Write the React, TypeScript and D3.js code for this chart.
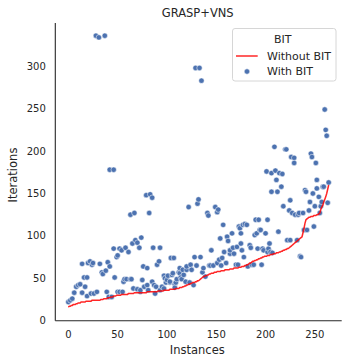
import React, { useEffect, useRef } from "react";
import * as d3 from "d3";

// sorted iterations per instance, without BIT (red line)
const withoutBit = [
  16, 17, 17, 18, 18, 19, 19, 19, 20, 20,
  21, 21, 21, 22, 22, 22, 22, 22, 23, 23,
  23, 23, 23, 23, 24, 24, 24, 24, 24, 24,
  24, 24, 24, 25, 25, 25, 26, 26, 26, 26,
  27, 27, 27, 28, 28, 28, 29, 29, 29, 30,
  30, 30, 30, 30, 31, 31, 31, 31, 31, 31,
  31, 32, 32, 32, 32, 32, 32, 33, 33, 33,
  33, 33, 33, 33, 33, 33, 33, 33, 33, 33,
  34, 34, 34, 34, 34, 34, 34, 34, 34, 34,
  34, 35, 35, 35, 35, 35, 35, 36, 36, 36,
  36, 36, 36, 37, 37, 37, 37, 37, 37, 38,
  38, 38, 38, 39, 39, 39, 40, 40, 41, 41,
  42, 42, 43, 43, 44, 44, 45, 45, 45, 46,
  46, 47, 47, 48, 49, 50, 51, 52, 52, 53,
  53, 54, 54, 55, 55, 56, 56, 56, 57, 57,
  57, 58, 58, 58, 58, 59, 59, 59, 59, 60,
  60, 60, 60, 60, 61, 61, 61, 61, 62, 62,
  62, 62, 62, 63, 63, 63, 64, 64, 64, 65,
  65, 66, 66, 67, 68, 68, 69, 70, 70, 71,
  71, 72, 72, 73, 73, 74, 74, 75, 75, 76,
  76, 76, 77, 77, 77, 78, 78, 78, 79, 79,
  79, 80, 80, 80, 81, 81, 82, 82, 83, 83,
  84, 84, 85, 85, 86, 87, 88, 89, 90, 91,
  92, 93, 94, 95, 96, 97, 98, 99, 104, 109,
  115, 119, 120, 121, 122, 122, 123, 123, 123, 124,
  124, 124, 125, 125, 126, 127, 131, 134, 136, 140,
  143, 146, 150, 155, 160,
];

// instances / iterations with BIT (scatter)
const withBitInstance = [
  0, 2, 4, 6, 8, 10, 12, 14, 14, 16,
  17, 19, 19, 20, 22, 23, 24, 25, 26, 28,
  29, 31, 32, 34, 35, 37, 38, 39, 40, 41,
  42, 42, 44, 46, 46, 47, 49, 50, 50, 52,
  52, 54, 55, 56, 57, 59, 58, 61, 63, 63,
  64, 65, 67, 66, 68, 70, 70, 72, 73, 73,
  74, 75, 76, 77, 79, 80, 80, 81, 82, 83,
  85, 85, 86, 87, 88, 89, 90, 92, 93, 93,
  95, 97, 97, 98, 99, 100, 101, 103, 103, 104,
  105, 106, 107, 108, 108, 109, 110, 112, 113, 113,
  114, 115, 116, 117, 119, 120, 120, 122, 123, 124,
  125, 127, 128, 129, 130, 131, 132, 133, 134, 135,
  136, 137, 139, 141, 142, 143, 144, 145, 147, 149,
  151, 151, 152, 153, 154, 155, 156, 157, 158, 160,
  161, 162, 164, 164, 166, 167, 168, 170, 171, 172,
  173, 174, 175, 175, 176, 177, 178, 179, 181, 182,
  184, 185, 186, 188, 189, 190, 191, 192, 193, 194,
  195, 196, 197, 198, 200, 201, 202, 202, 203, 204,
  205, 206, 206, 207, 209, 210, 211, 212, 213, 214,
  216, 217, 218, 220, 221, 222, 224, 225, 225, 226,
  227, 229, 229, 230, 232, 233, 234, 235, 236, 238,
  239, 240, 241, 242, 244, 245, 246, 247, 248, 249,
  250, 251, 252, 252, 254, 255, 256, 257, 258, 259,
  260, 261, 262, 263, 264,
];

const withBitIterations = [
  22, 24, 26, 33, 40, 42, 43, 67, 33, 51,
  40, 51, 29, 68, 70, 32, 66, 68, 32, 336,
  34, 334, 67, 57, 55, 336, 59, 34, 69, 28,
  178, 64, 28, 178, 85, 51, 75, 77, 34, 85,
  34, 83, 34, 46, 49, 49, 86, 81, 125, 49,
  49, 91, 127, 38, 95, 92, 37, 86, 34, 36,
  98, 48, 64, 40, 148, 62, 42, 36, 127, 149,
  145, 46, 86, 42, 32, 40, 66, 70, 36, 86,
  40, 38, 53, 50, 45, 48, 53, 45, 46, 74,
  54, 56, 74, 43, 39, 45, 49, 57, 56, 62,
  51, 49, 60, 54, 46, 60, 64, 134, 45, 66,
  60, 42, 75, 298, 65, 138, 143, 298, 75, 283,
  57, 62, 52, 127, 124, 65, 65, 83, 65, 134,
  128, 68, 131, 72, 97, 65, 74, 113, 81, 68,
  99, 94, 79, 83, 103, 86, 79, 66, 87, 66,
  111, 109, 91, 103, 83, 113, 75, 114, 113, 64,
  89, 86, 66, 66, 101, 119, 103, 85, 119, 107,
  107, 66, 85, 83, 103, 176, 119, 81, 85, 91,
  81, 152, 174, 80, 205, 177, 166, 152, 105, 174,
  158, 173, 135, 202, 202, 95, 130, 95, 142, 193,
  127, 192, 186, 125, 95, 125, 127, 76, 75, 127,
  107, 154, 152, 107, 130, 140, 197, 193, 150, 111,
  135, 186, 156, 166, 146, 127, 135, 140, 158, 158,
  249, 225, 218, 139, 163,
];

const xTicks = [0, 50, 100, 150, 200, 250];
const yTicks = [0, 50, 100, 150, 200, 250, 300];

const App = () => {
  const chartRef = useRef(null);

  useEffect(() => {
    drawChart();
  }, []);

  const drawChart = () => {
    const width = 348;
    const height = 364;
    const left = 55.3;
    const right = 341.7;
    const top = 23;
    const bottom = 320.7;
    const font = "DejaVu Sans, sans-serif";
    const ink = "#262626";

    const svg = d3.select(chartRef.current);
    svg.selectAll("*").remove();
    svg.attr("width", width).attr("height", height);

    const x = d3.scaleLinear().domain([-13.2, 277.2]).range([left, right]);
    const y = d3.scaleLinear().domain([0, 351]).range([bottom, top]);

    // scatter: with BIT
    svg
      .append("g")
      .selectAll("circle")
      .data(withBitInstance)
      .join("circle")
      .attr("cx", (d) => x(d))
      .attr("cy", (d, i) => y(withBitIterations[i]))
      .attr("r", 2.7)
      .attr("fill", "#4c72b0")
      .attr("stroke", "white")
      .attr("stroke-width", 0.5);

    // line: without BIT
    const line = d3
      .line()
      .x((d, i) => x(i))
      .y((d) => y(d));

    svg
      .append("path")
      .datum(withoutBit)
      .attr("fill", "none")
      .attr("stroke", "red")
      .attr("stroke-opacity", 0.85)
      .attr("stroke-width", 1.5)
      .attr("d", line);

    // spines
    svg
      .append("line")
      .attr("x1", left)
      .attr("x2", left)
      .attr("y1", top)
      .attr("y2", bottom)
      .attr("stroke", ink)
      .attr("stroke-width", 1.1);
    svg
      .append("line")
      .attr("x1", left)
      .attr("x2", right)
      .attr("y1", bottom)
      .attr("y2", bottom)
      .attr("stroke", ink)
      .attr("stroke-width", 1.1);

    // tick labels
    svg
      .append("g")
      .selectAll("text")
      .data(xTicks)
      .join("text")
      .attr("x", (d) => x(d))
      .attr("y", bottom + 17)
      .attr("text-anchor", "middle")
      .attr("font-family", font)
      .attr("font-size", 10)
      .attr("fill", ink)
      .text((d) => d);

    svg
      .append("g")
      .selectAll("text")
      .data(yTicks)
      .join("text")
      .attr("x", left - 9.5)
      .attr("y", (d) => y(d))
      .attr("dy", "0.35em")
      .attr("text-anchor", "end")
      .attr("font-family", font)
      .attr("font-size", 10)
      .attr("fill", ink)
      .text((d) => d);

    // axis labels + title
    svg
      .append("text")
      .attr("x", 197.3)
      .attr("y", 353.5)
      .attr("text-anchor", "middle")
      .attr("font-family", font)
      .attr("font-size", 11.5)
      .attr("fill", ink)
      .text("Instances");

    svg
      .append("text")
      .attr("transform", "translate(16.8,175) rotate(-90)")
      .attr("text-anchor", "middle")
      .attr("font-family", font)
      .attr("font-size", 11.5)
      .attr("fill", ink)
      .text("Iterations");

    svg
      .append("text")
      .attr("x", 197.7)
      .attr("y", 16.8)
      .attr("text-anchor", "middle")
      .attr("font-family", font)
      .attr("font-size", 11.5)
      .attr("fill", ink)
      .text("GRASP+VNS");

    // legend
    const lg = svg.append("g");
    lg.append("rect")
      .attr("x", 232.5)
      .attr("y", 28.5)
      .attr("width", 103.5)
      .attr("height", 52.5)
      .attr("rx", 2.5)
      .attr("fill", "white")
      .attr("fill-opacity", 0.8)
      .attr("stroke", "#cccccc")
      .attr("stroke-width", 0.8);
    lg.append("text")
      .attr("x", 282.7)
      .attr("y", 39)
      .attr("dy", "0.35em")
      .attr("text-anchor", "middle")
      .attr("font-family", font)
      .attr("font-size", 11)
      .attr("fill", ink)
      .text("BIT");
    lg.append("line")
      .attr("x1", 236)
      .attr("x2", 257.7)
      .attr("y1", 56)
      .attr("y2", 56)
      .attr("stroke", "red")
      .attr("stroke-opacity", 0.85)
      .attr("stroke-width", 1.5);
    lg.append("text")
      .attr("x", 267)
      .attr("y", 56)
      .attr("dy", "0.35em")
      .attr("font-family", font)
      .attr("font-size", 11)
      .attr("fill", ink)
      .text("Without BIT");
    lg.append("circle")
      .attr("cx", 247)
      .attr("cy", 71.5)
      .attr("r", 2.7)
      .attr("fill", "#4c72b0")
      .attr("stroke", "white")
      .attr("stroke-width", 0.5);
    lg.append("text")
      .attr("x", 267)
      .attr("y", 71)
      .attr("dy", "0.35em")
      .attr("font-family", font)
      .attr("font-size", 11)
      .attr("fill", ink)
      .text("With BIT");
  };

  return (
    <svg
      ref={chartRef}
      style={{ position: "absolute", left: 0, top: 0, background: "white" }}
    ></svg>
  );
};

export default App;
